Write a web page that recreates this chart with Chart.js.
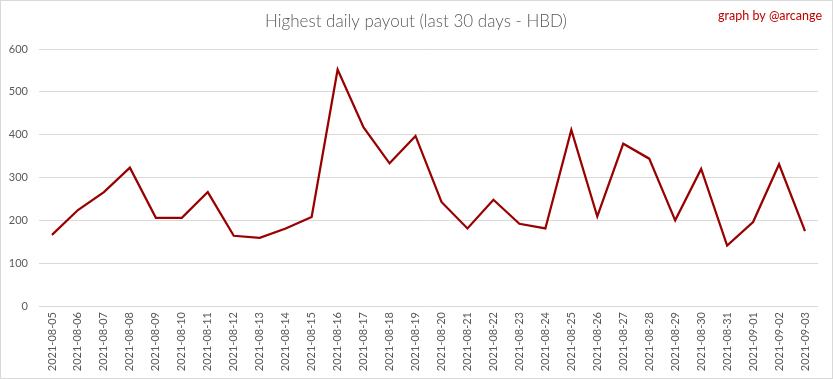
<!DOCTYPE html>
<html>
<head>
<meta charset="utf-8">
<script src="https://cdn.jsdelivr.net/npm/chart.js@4/dist/chart.umd.min.js"></script>
<style>
html,body{margin:0;padding:0;background:#fff;}
canvas{display:block;}
</style>
</head>
<body>
<canvas id="c" width="833" height="379"></canvas>
<script>
const categories = ["2021-08-05","2021-08-06","2021-08-07","2021-08-08","2021-08-09","2021-08-10","2021-08-11","2021-08-12","2021-08-13","2021-08-14","2021-08-15","2021-08-16","2021-08-17","2021-08-18","2021-08-19","2021-08-20","2021-08-21","2021-08-22","2021-08-23","2021-08-24","2021-08-25","2021-08-26","2021-08-27","2021-08-28","2021-08-29","2021-08-30","2021-08-31","2021-09-01","2021-09-02","2021-09-03"];
const payout = [166,224,266,323,206,206,266,164,159,181,208,552,417,333,397,243,181,248,192,181,411,209,379,344,200,320,141,196,331,175];
const yTicks = [0,100,200,300,400,500,600];
const titleText = "Highest daily payout (last 30 days - HBD)";
const creditText = "graph by @arcange";

const decor = {
  id: 'decor',
  afterDraw(chart) {
    const ctx = chart.ctx;
    ctx.save();
    ctx.strokeStyle = '#d9d9d9';
    ctx.lineWidth = 1;
    ctx.strokeRect(0.5, 0.5, chart.width - 1, chart.height - 1);
    ctx.fillStyle = '#595959';
    ctx.font = '300 17px Lato';
    ctx.textAlign = 'center';
    ctx.textBaseline = 'middle';
    ctx.fillText(titleText, 416, 22);
    ctx.fillStyle = '#c00000';
    ctx.font = '12.5px Lato';
    ctx.textAlign = 'right';
    ctx.fillText(creditText, 822, 16);
    ctx.restore();
  }
};

new Chart(document.getElementById('c'), {
  type: 'line',
  data: {
    labels: categories,
    datasets: [{
      data: payout,
      borderColor: '#990000',
      borderWidth: 2.25,
      pointRadius: 0,
      tension: 0,
      fill: false
    }]
  },
  options: {
    responsive: false,
    animation: false,
    layout: { padding: { top: 49, right: 15, bottom: 0, left: 0 } },
    plugins: { legend: { display: false }, title: { display: false }, tooltip: { enabled: false } },
    scales: {
      x: {
        offset: true,
        grid: { display: false, drawTicks: false },
        border: { display: false },
        ticks: {
          autoSkip: false, minRotation: 90, maxRotation: 90, padding: 6,
          color: '#595959', font: { family: 'Lato', size: 11 }
        },
        afterFit(scale) { scale.height = 73; }
      },
      y: {
        min: 0, max: 600,
        afterBuildTicks(scale) { scale.ticks = yTicks.map(v => ({ value: v })); },
        grid: { color: '#d9d9d9', drawTicks: false, lineWidth: 1 },
        border: { display: false },
        ticks: { padding: 11, color: '#595959', font: { family: 'Lato', size: 11 } },
        afterFit(scale) { scale.width = 39; }
      }
    }
  },
  plugins: [decor]
});
</script>
</body>
</html>
